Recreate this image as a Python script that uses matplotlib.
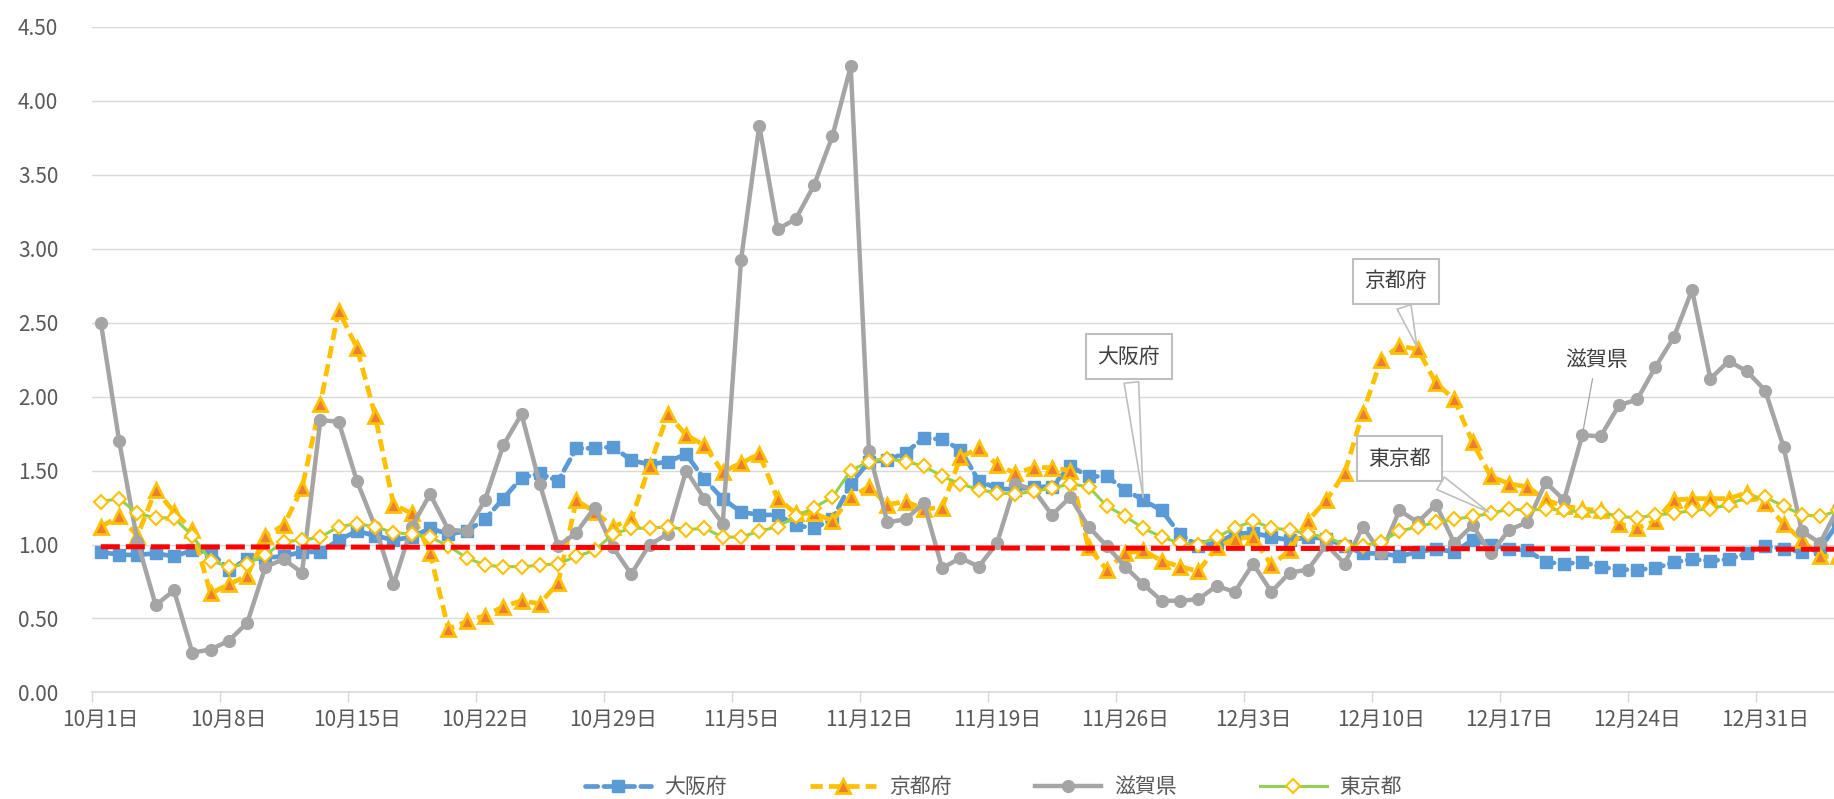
import numpy as np
import pandas as pd
import matplotlib
matplotlib.use('Agg')
import matplotlib.pyplot as plt
import matplotlib.dates as mdates
from matplotlib.ticker import FormatStrFormatter

plt.rcParams['font.family'] = ['Noto Sans CJK JP', 'DejaVu Sans']

# 実効再生産数 (10/1 - 1/4)
start = '2020-10-01'
osaka = [0.95, 0.93, 0.93, 0.94, 0.92, 0.96, 0.95, 0.83, 0.90, 0.91, 0.92, 0.95, 0.95, 1.03, 1.09, 1.06,
         1.03, 1.05, 1.11, 1.07, 1.09, 1.17, 1.31, 1.45, 1.48, 1.43, 1.65, 1.65, 1.66, 1.57, 1.54, 1.56, 1.61,
         1.44, 1.31, 1.22, 1.20, 1.20, 1.13, 1.11, 1.17, 1.41, 1.56, 1.57, 1.62, 1.72, 1.71, 1.64, 1.43, 1.38, 1.37,
         1.39, 1.39, 1.53, 1.46, 1.46, 1.37, 1.30, 1.23, 1.07, 0.99, 1.01, 1.07, 1.08, 1.05, 1.03, 1.05, 1.04,
         0.99, 0.94, 0.94, 0.92, 0.95, 0.97, 0.95, 1.03, 1.00, 0.97, 0.96, 0.88, 0.87, 0.88, 0.85, 0.83, 0.83,
         0.84, 0.88, 0.90, 0.89, 0.90, 0.94, 0.99, 0.97, 0.95, 0.97, 1.15]
kyoto = [1.12, 1.19, 1.06, 1.37, 1.22, 1.10, 0.67, 0.73, 0.79, 1.06, 1.13, 1.38, 1.95, 2.58, 2.33, 1.87,
         1.27, 1.21, 0.94, 0.43, 0.48, 0.52, 0.58, 0.62, 0.60, 0.74, 1.30, 1.22, 1.12, 1.17, 1.53, 1.88, 1.74,
         1.67, 1.49, 1.55, 1.61, 1.31, 1.21, 1.21, 1.16, 1.32, 1.39, 1.27, 1.29, 1.24, 1.25, 1.59, 1.65, 1.54, 1.48,
         1.52, 1.52, 1.50, 0.98, 0.83, 0.94, 0.96, 0.89, 0.85, 0.82, 0.98, 1.04, 1.05, 0.86, 0.96, 1.16, 1.30,
         1.48, 1.89, 2.25, 2.34, 2.32, 2.09, 1.98, 1.69, 1.46, 1.41, 1.39, 1.30, 1.26, 1.24, 1.23, 1.14, 1.11,
         1.16, 1.30, 1.31, 1.31, 1.31, 1.35, 1.28, 1.14, 1.03, 0.92, 0.92]
shiga = [2.50, 1.70, 1.02, 0.59, 0.69, 0.27, 0.29, 0.35, 0.47, 0.85, 0.90, 0.81, 1.84, 1.83, 1.43, 1.12,
         0.73, 1.12, 1.34, 1.10, 1.09, 1.30, 1.67, 1.88, 1.41, 0.99, 1.08, 1.25, 0.98, 0.80, 1.00, 1.07, 1.50,
         1.31, 1.14, 2.92, 3.83, 3.13, 3.20, 3.43, 3.76, 4.23, 1.63, 1.15, 1.17, 1.28, 0.84, 0.91, 0.85, 1.01, 1.41,
         1.37, 1.20, 1.32, 1.12, 0.99, 0.85, 0.73, 0.62, 0.62, 0.63, 0.72, 0.68, 0.87, 0.68, 0.81, 0.83, 1.00,
         0.87, 1.12, 0.94, 1.23, 1.15, 1.27, 1.01, 1.13, 0.94, 1.10, 1.15, 1.42, 1.30, 1.74, 1.73, 1.94, 1.98,
         2.20, 2.40, 2.72, 2.12, 2.24, 2.17, 2.04, 1.66, 1.09, 1.01, 1.25]
tokyo = [1.29, 1.31, 1.21, 1.18, 1.18, 1.06, 0.89, 0.85, 0.87, 0.93, 1.02, 1.03, 1.05, 1.12, 1.14, 1.12,
         1.08, 1.07, 1.05, 0.99, 0.91, 0.86, 0.85, 0.85, 0.86, 0.87, 0.92, 0.96, 1.07, 1.11, 1.11, 1.12, 1.10,
         1.11, 1.05, 1.05, 1.09, 1.12, 1.19, 1.25, 1.32, 1.50, 1.56, 1.58, 1.56, 1.53, 1.46, 1.41, 1.37, 1.35, 1.34,
         1.36, 1.38, 1.41, 1.39, 1.26, 1.19, 1.11, 1.05, 1.01, 1.00, 1.05, 1.11, 1.16, 1.11, 1.10, 1.07, 1.05,
         1.00, 0.99, 1.02, 1.09, 1.12, 1.15, 1.17, 1.19, 1.21, 1.24, 1.23, 1.24, 1.23, 1.22, 1.22, 1.19, 1.18,
         1.20, 1.21, 1.23, 1.24, 1.27, 1.32, 1.32, 1.26, 1.20, 1.19, 1.23]
ref_line = [0.985, 0.968]  # 赤破線 (始点, 終点)

names = ['大阪府', '京都府', '滋賀県', '東京都']

dates = pd.date_range(start, periods=len(osaka), freq='D')

fig = plt.figure(figsize=(18.34, 7.99), dpi=100)
ax = fig.add_axes([0.05, 0.1333, 0.95, 0.8335])

ax.plot(dates, osaka, color='#5B9BD5', lw=3.4, dashes=(2.6, 1.3), dash_capstyle='round',
        marker='s', ms=8, mfc='#5B9BD5', mec='#5B9BD5', label=names[0], zorder=3)
ax.plot(dates, kyoto, color='#FFC000', lw=3.4, dashes=(2.6, 1.3),
        marker='^', ms=10, mfc='#ED7D31', mec='#FFC000', mew=2, label=names[1], zorder=4)
ax.plot(dates, shiga, color='#A5A5A5', lw=3.2,
        marker='o', ms=8.5, mfc='#A5A5A5', mec='#A5A5A5', label=names[2], zorder=5)
ax.plot(dates, tokyo, color='#92D050', lw=2.2,
        marker='D', ms=7, mfc='white', mec='#FFC000', mew=1.5, label=names[3], zorder=6)
ax.plot([dates[0], dates[-1]], ref_line, color='#FF0000', lw=3.6, dashes=(3.8, 1.2), zorder=7)

x0 = mdates.date2num(dates[0])
ax.set_xlim(x0 - 0.5, x0 + 94.76)
ax.set_ylim(0, 4.5)
ax.set_yticks(np.arange(0, 4.51, 0.5))
ax.yaxis.set_major_formatter(FormatStrFormatter('%.2f'))
ax.tick_params(axis='y', length=0, pad=24, labelsize=15, labelcolor='#595959')
ax.grid(axis='y', color='#D9D9D9', lw=1)

# 目盛は日付の境目, ラベルは日付の中央
lab_dates = dates[::7]
ax.set_xticks(mdates.date2num(lab_dates) - 0.5)
ax.set_xticklabels([])
ax.set_xticks(mdates.date2num(lab_dates), minor=True)
ax.set_xticklabels([f'{d.month}月{d.day}日' for d in lab_dates], minor=True)
ax.tick_params(axis='x', which='major', length=7, color='#D9D9D9', width=1)
ax.tick_params(axis='x', which='minor', length=0, pad=12, labelsize=15, labelcolor='#595959')

for s in ['top', 'right', 'left']:
    ax.spines[s].set_visible(False)
ax.spines['bottom'].set_color('#D9D9D9')
ax.spines['bottom'].set_linewidth(1.2)

box = dict(boxstyle='square,pad=0.55', fc='white', ec='#BFBFBF', lw=1.5)
wedge = dict(arrowstyle='wedge,tail_width=0.7,shrink_factor=0.5', fc='white', ec='#BFBFBF', lw=1.2)
ax.annotate('大阪府', xy=(dates[57], osaka[57]), xytext=(x0 + 56.2, 2.27),
            ha='center', va='center', fontsize=15, color='#404040', bbox=box, arrowprops=wedge, zorder=10)
ax.annotate('京都府', xy=(dates[72], kyoto[72]), xytext=(x0 + 70.8, 2.78),
            ha='center', va='center', fontsize=15, color='#404040', bbox=box, arrowprops=wedge, zorder=10)
ax.annotate('東京都', xy=(dates[76], tokyo[76]), xytext=(x0 + 71.0, 1.58),
            ha='center', va='center', fontsize=15, color='#404040', bbox=box, arrowprops=wedge, zorder=10)
ax.annotate('滋賀県', xy=(dates[81], shiga[81]), xytext=(x0 + 81.75, 2.25),
            ha='center', va='center', fontsize=15, color='#404040',
            arrowprops=dict(arrowstyle='-', color='#A5A5A5', lw=0.9, shrinkA=4, shrinkB=2), zorder=10)

fig.legend(loc='center', bbox_to_anchor=(0.5415, 0.015), ncol=4, frameon=False,
           fontsize=15, labelcolor='#595959', handlelength=3.2, handletextpad=0.6, columnspacing=4.0)

fig.savefig('out.png', dpi=100)
